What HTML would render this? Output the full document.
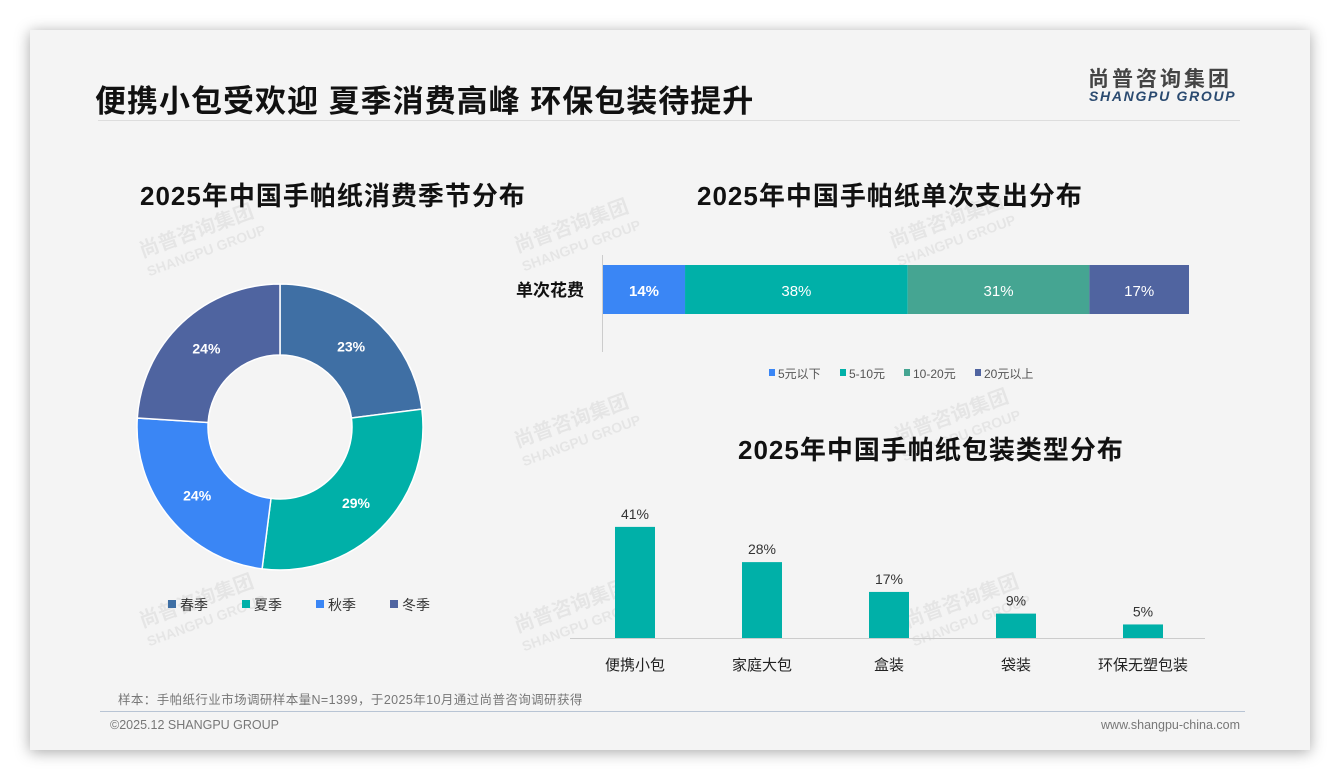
<!DOCTYPE html>
<html><head><meta charset="utf-8"><style>
body{margin:0;width:1340px;height:780px;background:#fff;font-family:"Liberation Sans","Noto Sans CJK SC",sans-serif;position:relative;overflow:hidden}
#card{position:absolute;left:30px;top:30px;width:1280px;height:720px;background:#f4f4f4;box-shadow:0 2px 14px rgba(0,0,0,.35)}
.abs{position:absolute}
.t{font-weight:bold;color:#111;white-space:nowrap}
.wm{position:absolute;color:rgba(0,0,0,.06);font-weight:bold;font-size:20px;transform:rotate(-20deg);line-height:20px;white-space:nowrap}
</style></head><body>
<div id="card"></div>
<div class="abs t" style="left:95px;top:76px;font-size:31px;letter-spacing:1px">便携小包受欢迎 夏季消费高峰 环保包装待提升</div>
<div class="abs" style="left:1088px;top:63px;font-size:21px;font-weight:bold;color:#444;letter-spacing:3px">尚普咨询集团</div>
<div class="abs" style="left:1089px;top:88px;font-size:14px;font-weight:bold;font-style:italic;color:#2a4a70;letter-spacing:1.7px">SHANGPU GROUP</div>
<div class="abs" style="left:98px;top:120px;width:1142px;height:1px;background:#ddd"></div>
<div class="wm" style="left:140px;top:220px">尚普咨询集团<br><span style="font-size:14px">SHANGPU GROUP</span></div>
<div class="wm" style="left:515px;top:215px">尚普咨询集团<br><span style="font-size:14px">SHANGPU GROUP</span></div>
<div class="wm" style="left:890px;top:210px">尚普咨询集团<br><span style="font-size:14px">SHANGPU GROUP</span></div>
<div class="wm" style="left:515px;top:410px">尚普咨询集团<br><span style="font-size:14px">SHANGPU GROUP</span></div>
<div class="wm" style="left:895px;top:405px">尚普咨询集团<br><span style="font-size:14px">SHANGPU GROUP</span></div>
<div class="wm" style="left:140px;top:590px">尚普咨询集团<br><span style="font-size:14px">SHANGPU GROUP</span></div>
<div class="wm" style="left:515px;top:595px">尚普咨询集团<br><span style="font-size:14px">SHANGPU GROUP</span></div>
<div class="wm" style="left:905px;top:590px">尚普咨询集团<br><span style="font-size:14px">SHANGPU GROUP</span></div>
<div class="abs t" style="left:140px;top:176px;font-size:26px;letter-spacing:1px">2025年中国手帕纸消费季节分布</div>
<div class="abs t" style="left:697px;top:176px;font-size:26px;letter-spacing:1px">2025年中国手帕纸单次支出分布</div>
<div class="abs t" style="left:738px;top:430px;font-size:26px;letter-spacing:1px">2025年中国手帕纸包装类型分布</div>
<svg class="abs" style="left:0;top:0" width="1340" height="780" id="chart"></svg>
<div class="abs" style="left:118px;top:689px;font-size:12.5px;color:#777;letter-spacing:0.4px">样本：手帕纸行业市场调研样本量N=1399，于2025年10月通过尚普咨询调研获得</div>
<div class="abs" style="left:100px;top:711px;width:1145px;height:1px;background:#b8c4d4"></div>
<div class="abs" style="left:110px;top:718px;font-size:12.5px;color:#777">©2025.12 SHANGPU GROUP</div>
<div class="abs" style="right:100px;top:718px;font-size:12.5px;color:#777">www.shangpu-china.com</div>
<script>
const seasons=['春季','夏季','秋季','冬季'];
const seasonVals=[23,29,24,24];
const spendCats=['5元以下','5-10元','10-20元','20元以上'];
const spendVals=[14,38,31,17];
const packCats=['便携小包','家庭大包','盒装','袋装','环保无塑包装'];
const packVals=[41,28,17,9,5];
const NS='http://www.w3.org/2000/svg';
const svg=document.getElementById('chart');
function mk(t,a,p){const e=document.createElementNS(NS,t);for(const k in a)e.setAttribute(k,a[k]);(p||svg).appendChild(e);return e;}
// donut
const dc=['#3f6fa4','#00b0a8','#3a86f5','#4f64a0'];
const cx=280,cy=427,R=143,r=72;
let tot=seasonVals.reduce((a,b)=>a+b,0),acc=0;
seasonVals.forEach((v,i)=>{
 const a0=acc/tot*2*Math.PI,a1=(acc+v)/tot*2*Math.PI;acc+=v;
 const p=(a,rr)=>[cx+rr*Math.sin(a),cy-rr*Math.cos(a)];
 const [x0,y0]=p(a0,R),[x1,y1]=p(a1,R),[x2,y2]=p(a1,r),[x3,y3]=p(a0,r);
 const lg=(a1-a0)>Math.PI?1:0;
 const s=mk('path',{d:`M${x0},${y0}A${R},${R} 0 ${lg} 1 ${x1},${y1}L${x2},${y2}A${r},${r} 0 ${lg} 0 ${x3},${y3}Z`,fill:dc[i],stroke:'#fff','stroke-width':1.5});
 
 
 const am=(a0+a1)/2,[lx,ly]=p(am,(R+r)/2);
 const t=mk('text',{x:lx,y:ly+5,'text-anchor':'middle',fill:'#fff','font-size':14,'font-weight':'bold'});t.textContent=v+'%';
 
 
 const lx2=168+i*74;
 const sq=mk('rect',{x:lx2,y:600,width:8,height:8,fill:dc[i]});
 
 
 const lt=mk('text',{x:lx2+12,y:610,'font-size':14,fill:'#333'});lt.textContent=seasons[i];
 
 
});
// stacked bar
const bc=['#3a86f5','#00b0a8','#45a592','#5064a0'];
const bx0=603,bw=586,by=265,bh=49;
const sx=v=>v/100*bw;
const ax=mk('line',{x1:602.5,y1:255,x2:602.5,y2:352,stroke:'#ccc'});


const yl=mk('text',{x:584,y:296,'text-anchor':'end','font-size':17,'font-weight':'bold',fill:'#111'});yl.textContent='单次花费';


let cum=0;
spendVals.forEach((v,i)=>{
 const x=bx0+sx(cum);cum+=v;
 const rc=mk('rect',{x:x,y:by,width:sx(v),height:bh,fill:bc[i]});
 
 
 const t=mk('text',{x:x+sx(v)/2,y:by+31,'text-anchor':'middle',fill:'#fff','font-size':15,'font-weight':i==0?'bold':'normal'});t.textContent=v+'%';
 
 
});
const lxs=[769,840,904,975];
spendCats.forEach((c,i)=>{
 const sq=mk('rect',{x:lxs[i],y:369,width:6,height:7,fill:bc[i]});
 
 
 const t=mk('text',{x:lxs[i]+9,y:378,'font-size':12,fill:'#555'});t.textContent=c;
 
 
});
// column chart
const base=638,scale=2.71,cw=40,c0=635,step=127;
const bl=mk('line',{x1:570,y1:base+0.5,x2:1205,y2:base+0.5,stroke:'#ccc'});


packVals.forEach((v,i)=>{
 const xc=c0+i*step,h=v*scale;
 const rc=mk('rect',{x:xc-cw/2,y:base-h,width:cw,height:h,fill:'#00b0a8'});
 
 
 const t=mk('text',{x:xc,y:base-h-8,'text-anchor':'middle','font-size':14,fill:'#333'});t.textContent=v+'%';
 
 
 const c=mk('text',{x:xc,y:670,'text-anchor':'middle','font-size':15,fill:'#222'});c.textContent=packCats[i];
 
 
});
</script>
</body></html>
